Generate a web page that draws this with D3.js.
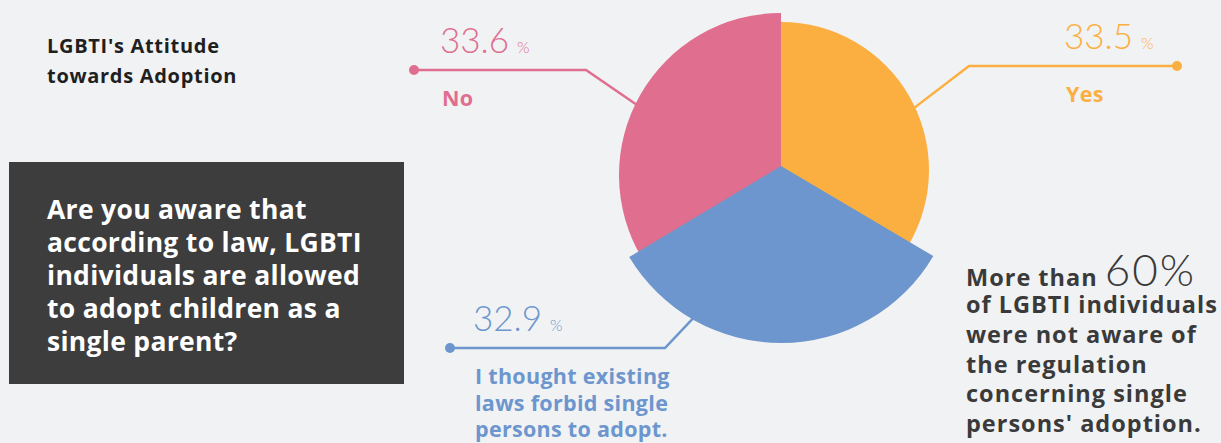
<!DOCTYPE html>
<html>
<head>
<meta charset="utf-8">
<script src="https://cdn.jsdelivr.net/npm/d3@7"></script>
<style>
  html, body { margin: 0; padding: 0; background: #f1f2f4; }
  svg { display: block; font-family: "Open Sans", Lato, sans-serif; }
  .num { font-family: Lato, "Open Sans", sans-serif; font-weight: 300; }
</style>
</head>
<body>
<svg id="chart" width="1221" height="443"></svg>
<script>
// ---- data ----
const categories = ["Yes", "I thought existing laws forbid single persons to adopt.", "No"];
const values = [33.5, 32.9, 33.6];
const labelLines = [["Yes"], ["I thought existing", "laws forbid single", "persons to adopt."], ["No"]];
const colors = ["#fcaf41", "#6c96cd", "#e06e8f"];
const titleLines = ["LGBTI's Attitude", "towards Adoption"];
const questionLines = ["Are you aware that", "according to law, LGBTI", "individuals are allowed", "to adopt children as a", "single parent?"];
const noteBig = "60%";
const noteLines = ["of LGBTI individuals", "were not aware of", "the regulation", "concerning single", "persons' adoption."];

// ---- layout (styles/positions) ----
const W = 1221, H = 443;
const cx = 781, cy = 166;
const sliceRadius = [148, 177, 162];
const sliceDy = [4, 0, 9];
const anchorAngle = [65, 210, 296]; // degrees, where leader leaves arc
const leader = [
  { elbow: [969, 66], dot: [1177, 66], textX: 1064 },
  { elbow: [665, 348], dot: [450, 348], textX: 473 },
  { elbow: [586, 70], dot: [414, 70], textX: 440 }
];

const svg = d3.select("#chart");
svg.append("rect").attr("width", W).attr("height", H).attr("fill", "#f1f2f4");

// title
const title = svg.append("text").attr("font-size", 20).attr("font-weight", 700)
  .attr("letter-spacing", 0.7).attr("fill", "#1f1f1f");
title.selectAll("tspan").data(titleLines).join("tspan")
  .attr("x", 47).attr("y", (d, i) => 52.5 + i * 30.5).text(d => d);

// question box
svg.append("rect").attr("x", 9).attr("y", 162).attr("width", 395).attr("height", 222).attr("fill", "#3d3d3d");
const q = svg.append("text").attr("font-size", 26.5).attr("font-weight", 700)
  .attr("letter-spacing", 0.3).attr("fill", "#ffffff");
q.selectAll("tspan").data(questionLines).join("tspan")
  .attr("x", 47).attr("y", (d, i) => 218.5 + i * 33.1).text(d => d);

// pie
const pie = d3.pie().sort(null).value(d => d)(values);
const drawOrder = [2, 0, 1];
const gPie = svg.append("g");
drawOrder.forEach(i => {
  const arc = d3.arc().innerRadius(0).outerRadius(sliceRadius[i]);
  gPie.append("path")
    .attr("transform", `translate(${cx},${cy + sliceDy[i]})`)
    .attr("d", arc(pie[i]))
    .attr("fill", colors[i]);
});

// leaders & labels
const rad = Math.PI / 180;
values.forEach((v, i) => {
  const a = anchorAngle[i] * rad;
  const r = sliceRadius[i] - 1;
  const p0 = [cx + r * Math.sin(a), cy + sliceDy[i] - r * Math.cos(a)];
  const L = leader[i];
  svg.append("path")
    .attr("d", d3.line()([p0, L.elbow, L.dot]))
    .attr("fill", "none").attr("stroke", colors[i]).attr("stroke-width", 2.5);
  svg.append("circle").attr("cx", L.dot[0]).attr("cy", L.dot[1]).attr("r", 5).attr("fill", colors[i]);
  const t = svg.append("text").attr("x", L.textX).attr("y", L.dot[1] - 17).attr("fill", colors[i]);
  t.append("tspan").attr("class", "num").attr("font-size", 35).text(d3.format(".1f")(v));
  t.append("tspan").attr("class", "num").attr("font-size", 16).attr("dx", 8).text("%");
  const lab = svg.append("text").attr("font-size", 21.5).attr("font-weight", 700)
    .attr("letter-spacing", 0.3).attr("fill", colors[i]);
  lab.selectAll("tspan").data(labelLines[i]).join("tspan")
    .attr("x", L.textX + 2).attr("y", (d, j) => L.dot[1] + 36 + j * 26.5).text(d => d);
});

// note on right
const note = svg.append("text").attr("fill", "#3a3a3a").attr("font-size", 23.5)
  .attr("font-weight", 700).attr("letter-spacing", 1);
note.append("tspan").attr("x", 966).attr("y", 286).text("More than ");
note.append("tspan").attr("class", "num").attr("font-size", 44).attr("letter-spacing", 2).text(noteBig);
noteLines.forEach((d, i) => {
  note.append("tspan").attr("x", 966).attr("y", 313 + i * 29.8).text(d);
});
</script>
</body>
</html>
